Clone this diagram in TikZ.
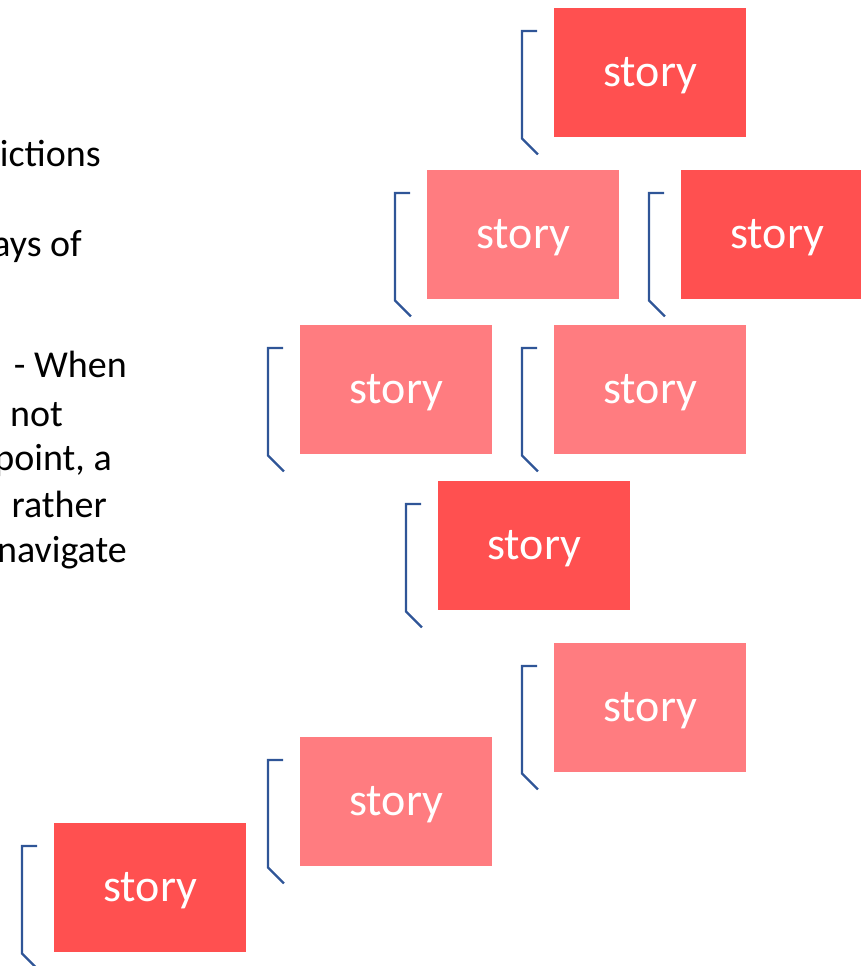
\documentclass[tikz,border=0pt]{standalone}
\usepackage{fontspec}
\setmainfont{Carlito}
\usetikzlibrary{calc}
\definecolor{darkred}{HTML}{FF5050}
\definecolor{lightred}{HTML}{FF7C80}
\definecolor{brk}{HTML}{2F5597}
\begin{document}
\begin{tikzpicture}[x=1pt,y=-1pt,
  storybox/.style={rectangle, inner sep=0pt, anchor=north west, minimum width=192pt, minimum height=129pt, text=white, font=\fontsize{46}{50}\selectfont},
  dk/.style={storybox, fill=darkred},
  lt/.style={storybox, fill=lightred},
  word/.style={text=white, font=\fontsize{46}{50}\selectfont, inner sep=0pt},
  brack/.style={draw=brk, line width=2.3pt},
  side/.style={anchor=base east, inner sep=0pt, text=black, font=\fontsize{38}{44}\selectfont}]
\clip (0,0) rectangle (861,966);
% left text (clipped paragraph)
\node[side] (t1) at (101,166) {ictions};
\node[side] (t2) at (82,256) {ays of};
\node[side] (t3) at (127,377) {- When};
\node[side] (t4) at (63,426) {not};
\node[side] (t5) at (112,470) {point, a};
\node[side] (t6) at (107,517) {rather};
\node[side] (t7) at (127,562) {navigate};
% boxes
\node[dk] (b1) at (554,8) {};
\node[lt] (b2) at (427,170) {};
\node[dk] (b3) at (681,170) {};
\node[lt] (b4) at (300,325) {};
\node[lt] (b5) at (554,325) {};
\node[dk] (b6) at (438,481) {};
\node[lt] (b7) at (554,643) {};
\node[lt] (b8) at (300,737) {};
\node[dk] (b9) at (54,823) {};
% labels and brackets
\foreach \b in {b1,b2,b3,b4,b5,b6,b7,b8,b9}{
  \node[word] (\b l) at ($(\b.center)+(0pt,-3pt)$) {story};
  \draw[brack] ($(\b.north west)+(-17pt,-23pt)$) -- ($(\b.north west)+(-32pt,-23pt)$)
    -- ($(\b.south west)+(-32pt,-1pt)$) -- ($(\b.south west)+(-16pt,-17pt)$);
}
\end{tikzpicture}
\end{document}
